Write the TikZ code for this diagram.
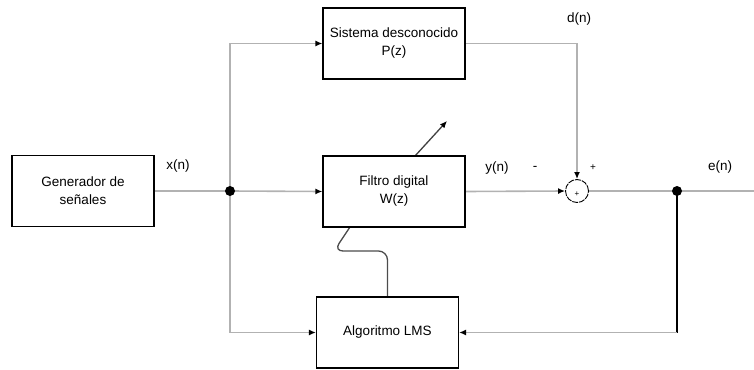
\documentclass[tikz,border=0pt]{standalone}
\usepackage{fontspec}
\setmainfont{Liberation Sans}
\usetikzlibrary{arrows.meta,calc}
\pgfdeclarelayer{bg}
\pgfsetlayers{bg,main}
\begin{document}
\begin{tikzpicture}[x=1pt,y=-1pt,
  font=\fontsize{13.5}{18}\selectfont,
  block/.style={draw=black,line width=1.2pt,minimum width=142pt,minimum height=71pt,align=center,inner sep=1pt},
  conn/.style={draw=black!30,line width=1.6pt},
  arr/.style={conn,-{Latex[length=7pt,width=6pt,black]}},
  junc/.style={circle,fill=black,inner sep=0pt,minimum size=10pt},
  lbl/.style={inner sep=0pt}]
\useasboundingbox (0,0) rectangle (754,369);
\node[block] (gen) at (83,191) {Generador de\\se\~nales};
\node[block] (sys) at (394,43.5) {Sistema desconocido\\P(z)};
\node[block] (fil) at (394,191.5) {Filtro digital\\W(z)};
\node[block] (lms) at (387.5,332.5) {Algoritmo LMS};
\node[draw=black,circle,line width=0.9pt,dash pattern=on 6pt off 1pt,minimum size=23pt,inner sep=0pt] (sum) at (577,191) {};
\node[lbl,font=\fontsize{8}{9}\selectfont] (sumplus) at (577,194) {+};
\node[junc] (j1) at (230,191) {};
\node[junc] (j2) at (677,191) {};
\coordinate (eend) at (754,191);
\coordinate (adjS) at (415,156);
\coordinate (adjE) at (447,121);
\coordinate (filB) at (350,227);
% labels
\node[lbl] (xn) at (178,166) {x(n)};
\node[lbl] (yn) at (497,168) {y(n)};
\node[lbl] (minus) at (535,168) {-};
\node[lbl,font=\fontsize{10}{12}\selectfont] (plus) at (593,168) {+};
\node[lbl] (dn) at (579,19) {d(n)};
\node[lbl] (en) at (720,167) {e(n)};
% connectors
\begin{pgfonlayer}{bg}
\draw[conn] (gen.east) -- (j1.center);
\draw[arr] (j1.center) |- (sys.west);
\draw[arr] (j1.center) -- (fil.west);
\draw[arr] (j1.center) |- (lms.west);
\draw[arr] (sys.east) -| (sum.north);
\draw[arr] (fil.east) -- (sum.west);
\draw[conn] (sum.east) -- (eend);
\draw[black,line width=1.6pt] (j2.center) -- (j2 |- lms.east);
\draw[arr] (j2 |- lms.east) -- (lms.east);
\draw[draw=black!75,line width=1.3pt,-{Latex[length=7pt,width=6pt,black]}] (adjS) -- (adjE);
\draw[draw=black!70,line width=1.3pt,rounded corners=9pt] (lms.north) -- (387.5,251) -- (334,251) -- (filB);
\end{pgfonlayer}
\end{tikzpicture}
\end{document}
